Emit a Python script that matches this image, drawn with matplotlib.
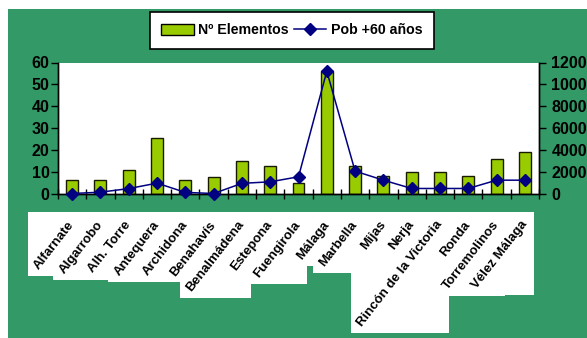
import matplotlib
matplotlib.use("Agg")
import matplotlib.pyplot as plt
from matplotlib.patches import Rectangle, Patch
from matplotlib.lines import Line2D
from matplotlib.transforms import IdentityTransform
from matplotlib.font_manager import FontProperties
import numpy as np

categories = ["Alfarnate", "Algarrobo", "Alh. Torre", "Antequera", "Archidona",
              "Benahavís", "Benalmádena", "Estepona", "Fuengirola", "Málaga",
              "Marbella", "Mijas", "Nerja", "Rincón de la Victoria", "Ronda",
              "Torremolinos", "Vélez Málaga"]
elementos = [6.1, 6.1, 10.8, 25.2, 6.1, 7.6, 14.8, 12.5, 4.6, 56, 12.7, 7.8,
             9.9, 9.9, 7.8, 15.6, 18.8]
pob60 = [0, 1200, 4500, 9500, 1000, 0, 9300, 10700, 15300, 112000, 20500,
         12200, 4600, 4600, 4600, 12200, 12200]
left_ticks = [0, 10, 20, 30, 40, 50, 60]
right_ticks = [0, 20000, 40000, 60000, 80000, 100000, 120000]

GREEN = "#339966"
BAR = "#99CC00"
NAVY = "#000080"
W, H = 587, 338

fig = plt.figure(figsize=(W / 100, H / 100), dpi=100, facecolor="white")
fig.patches.append(Rectangle((8 / W, 0), (W - 8) / W, (H - 9) / H,
                             transform=fig.transFigure, facecolor=GREEN,
                             edgecolor="none", zorder=-2))

x0, x1, ytop, ybot = 58, 539, 62.5, 193.5
ax = fig.add_axes([x0 / W, 1 - ybot / H, (x1 - x0) / W, (ybot - ytop) / H])
ax.set_facecolor("white")
x = np.arange(len(categories))
ax.bar(x, elementos, width=0.42, color=BAR, edgecolor="#1a1a00", linewidth=1.0, zorder=2)
ax.set_xlim(-0.5, len(categories) - 0.5)
ax.set_ylim(0, 60)
ax.set_yticks(left_ticks)

ax2 = ax.twinx()
ax2.plot(x, pob60, color=NAVY, linewidth=1.1, marker="D", markersize=6.5,
         markerfacecolor=NAVY, markeredgecolor=NAVY, zorder=3, clip_on=False)
ax2.set_ylim(0, 120000)
ax2.set_yticks(right_ticks)

fp = FontProperties(family=["Liberation Sans", "DejaVu Sans"], weight="bold", size=11.5)
for a in (ax, ax2):
    a.spines["top"].set_visible(False)
    for s in a.spines.values():
        s.set_linewidth(1.0)
        s.set_color("black")
ax.tick_params(axis="y", direction="out", length=5, width=1, pad=1)
ax2.tick_params(axis="y", direction="out", length=5, width=1, pad=4)
for t in ax.get_yticklabels() + ax2.get_yticklabels():
    t.set_fontproperties(fp)

# x ticks: marks at category boundaries, labels at centers
ax.set_xticks(np.arange(-0.5, len(categories) + 0.5, 1), minor=True)
ax.set_xticks(x)
ax.set_xticklabels(categories, rotation=52, ha="right", va="center",
                   rotation_mode="anchor", fontsize=9.5, fontweight="bold",
                   family=["Liberation Sans", "DejaVu Sans"])
ax.tick_params(axis="x", which="major", length=0, pad=21)
ax.tick_params(axis="x", which="minor", direction="inout", length=7, width=1)

# legend
handles = [Patch(facecolor=BAR, edgecolor="black", linewidth=1.0),
           Line2D([], [], color=NAVY, marker="D", markersize=6, linewidth=1.1)]
leg = fig.legend(handles, ["Nº Elementos", "Pob +60 años"], ncol=2,
                 loc="upper left", bbox_to_anchor=(150 / W, 1 - 12 / H),
                 frameon=True, fancybox=False, edgecolor="black",
                 facecolor="white", framealpha=1,
                 borderpad=0.8, handlelength=2.3, handleheight=0.9,
                 handletextpad=0.3, columnspacing=0.35, borderaxespad=0,
                 prop=dict(family=["Liberation Sans", "DejaVu Sans"],
                           weight="bold", size=10.2))
leg.get_frame().set_linewidth(1.2)

# white boxes behind category labels
fig.canvas.draw()
r = fig.canvas.get_renderer()
for lbl in ax.get_xticklabels():
    bb = lbl.get_window_extent(r)
    fig.patches.append(Rectangle((bb.x0 - 4, bb.y0 - 4),
                                 bb.width + 8, bb.height + 11,
                                 transform=IdentityTransform(), facecolor="white",
                                 edgecolor="none", zorder=-1))

fig.savefig("out.png", dpi=100, facecolor="white")
